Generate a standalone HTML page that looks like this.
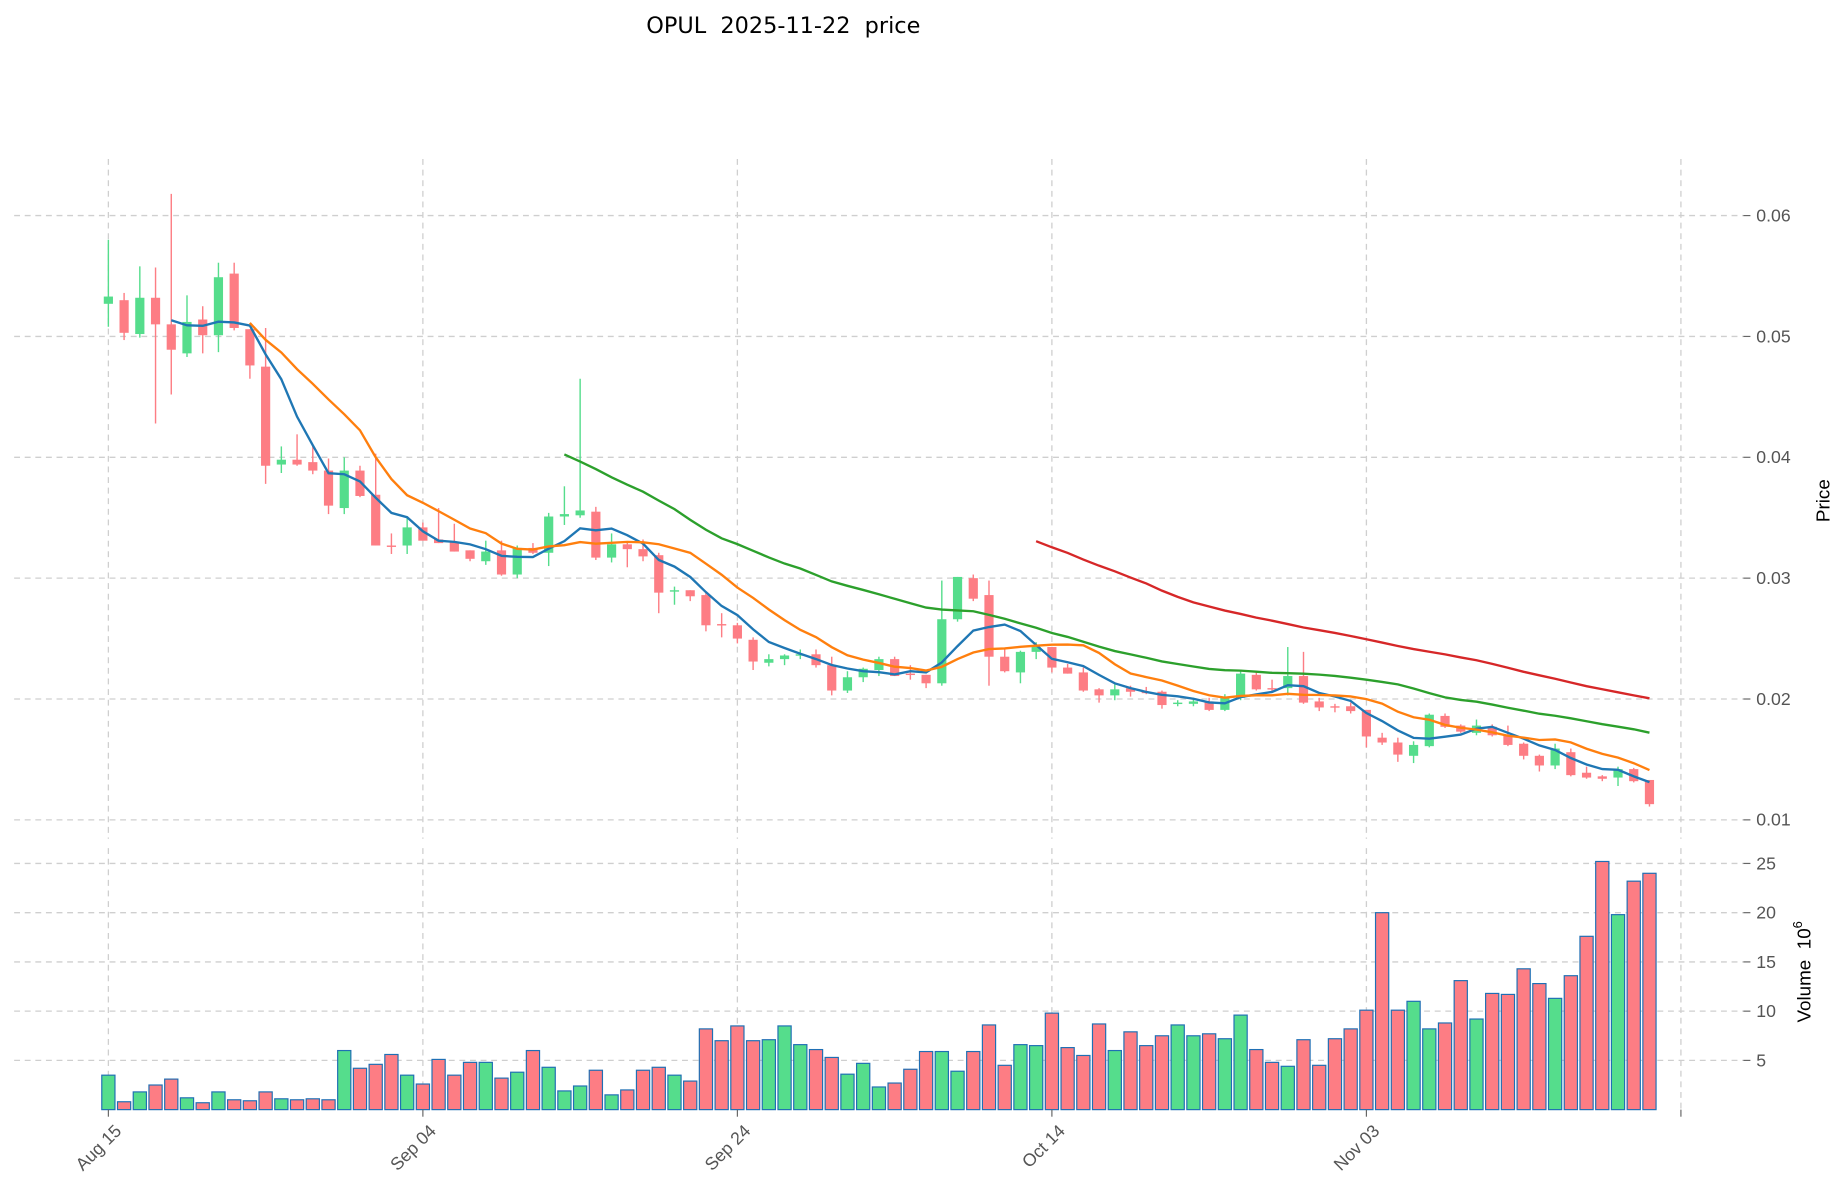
<!DOCTYPE html>
<html><head><meta charset="utf-8"><style>
html,body{margin:0;padding:0;background:#fff;}
svg{display:block;font-family:"Liberation Sans","DejaVu Sans",sans-serif;}
</style></head><body>
<svg id="chart" width="1847" height="1202" viewBox="0 0 1568 1020.4" xmlns="http://www.w3.org/2000/svg">
<text x="665" y="28" font-size="19" text-anchor="middle" fill="#000" style="white-space:pre;font-family:'DejaVu Sans',sans-serif" xml:space="preserve">OPUL  2025-11-22  price</text>
<g id="grid"></g><g id="vol"></g><g id="candles"></g><g id="mas"></g><g id="axes"></g>
<text transform="translate(1553,425) rotate(-90)" font-size="16" text-anchor="middle" fill="#000">Price</text>
<text transform="translate(1537,825) rotate(-90)" font-size="16" text-anchor="middle" fill="#000" style="white-space:pre" xml:space="preserve">Volume  10<tspan font-size="11" dy="-7">6</tspan></text>
</svg>
<script>
const opens=[.0527,.0530,.0502,.0532,.0510,.0486,.0514,.0501,.0552,.0506,.0475,.0394,.0398,.0396,.0389,.0358,.0389,.0369,.0327,.0327,.0342,.0332,.0330,.0323,.0314,.0323,.0303,.0325,.0321,.0351,.0352,.0355,.0317,.0328,.0324,.0319,.0289,.0290,.0286,.0262,.0261,.0249,.0230,.0233,.0236,.0237,.0228,.0207,.0218,.0224,.0233,.0221,.0220,.0213,.0266,.0300,.0286,.0235,.0222,.0239,.0243,.0226,.0222,.0208,.0203,.0209,.0206,.0206,.0196,.0196,.0198,.0191,.0201,.0220,.0209,.0209,.0219,.0198,.0194,.0194,.0191,.0168,.0164,.0153,.0161,.0186,.0178,.0172,.0177,.0170,.0163,.0153,.0145,.0156,.0139,.0136,.0135,.0142,.0133];
const closes=[.0533,.0503,.0532,.0510,.0489,.0512,.0501,.0549,.0507,.0476,.0393,.0398,.0394,.0389,.0360,.0389,.0368,.0327,.0326,.0342,.0331,.0329,.0322,.0316,.0322,.0303,.0325,.0321,.0351,.0353,.0356,.0317,.0328,.0324,.0318,.0288,.0290,.0285,.0261,.0261,.0250,.0231,.0233,.0236,.0237,.0228,.0207,.0218,.0225,.0233,.0219,.0220,.0213,.0266,.0301,.0283,.0235,.0223,.0239,.0243,.0226,.0221,.0207,.0203,.0208,.0206,.0205,.0195,.0197,.0198,.0191,.0201,.0221,.0208,.0208,.0219,.0197,.0193,.0193,.0190,.0169,.0164,.0154,.0162,.0187,.0177,.0173,.0178,.0170,.0162,.0153,.0145,.0159,.0137,.0135,.0134,.0142,.0132,.0113];
const highs=[.0580,.0536,.0558,.0557,.0618,.0534,.0525,.0561,.0561,.0506,.0507,.0409,.0419,.0410,.0399,.0400,.0393,.0403,.0337,.0350,.0346,.0358,.0345,.0323,.0331,.0331,.0327,.0329,.0354,.0376,.0465,.0359,.0337,.0330,.0332,.0321,.0293,.0290,.0288,.0271,.0263,.0251,.0237,.0237,.0241,.0241,.0235,.0223,.0226,.0235,.0235,.0228,.0220,.0298,.0301,.0303,.0298,.0242,.0240,.0247,.0243,.0229,.0226,.0209,.0212,.0211,.0210,.0207,.0199,.0201,.0201,.0204,.0223,.0223,.0216,.0243,.0239,.0201,.0196,.0197,.0191,.0172,.0168,.0165,.0188,.0188,.0179,.0183,.0179,.0178,.0164,.0154,.0163,.0159,.0144,.0137,.0144,.0143,.0133];
const lows=[.0508,.0497,.0499,.0428,.0452,.0483,.0486,.0487,.0505,.0465,.0378,.0387,.0393,.0386,.0353,.0353,.0367,.0327,.0320,.0320,.0331,.0329,.0322,.0314,.0311,.0302,.0300,.0320,.0310,.0344,.0350,.0315,.0313,.0309,.0314,.0271,.0278,.0281,.0256,.0251,.0246,.0224,.0227,.0228,.0233,.0226,.0203,.0205,.0214,.0219,.0219,.0216,.0209,.0211,.0264,.0281,.0211,.0222,.0213,.0233,.0222,.0221,.0206,.0197,.0199,.0202,.0204,.0192,.0194,.0194,.0190,.0190,.0199,.0207,.0206,.0203,.0196,.0190,.0189,.0188,.0160,.0162,.0148,.0147,.0160,.0176,.0172,.0170,.0169,.0161,.0150,.0140,.0142,.0136,.0134,.0132,.0128,.0131,.0111];
const volumes=[3.5,0.8,1.8,2.5,3.1,1.2,0.7,1.8,1.0,0.9,1.8,1.1,1.0,1.1,1.0,6.0,4.2,4.6,5.6,3.5,2.6,5.1,3.5,4.8,4.8,3.2,3.8,6.0,4.3,1.9,2.4,4.0,1.5,2.0,4.0,4.3,3.5,2.9,8.2,7.0,8.5,7.0,7.1,8.5,6.6,6.1,5.3,3.6,4.7,2.3,2.7,4.1,5.9,5.9,3.9,5.9,8.6,4.5,6.6,6.5,9.8,6.3,5.5,8.7,6.0,7.9,6.5,7.5,8.6,7.5,7.7,7.2,9.6,6.1,4.8,4.4,7.1,4.5,7.2,8.2,10.1,20.0,10.1,11.0,8.2,8.8,13.1,9.2,11.8,11.7,14.3,12.8,11.3,13.6,17.6,25.2,19.8,23.2,24.0];
const priceTicks=[0.01,0.02,0.03,0.04,0.05,0.06];
const priceTickLabels=["0.01","0.02","0.03","0.04","0.05","0.06"];
const volTicks=[5,10,15,20,25];
const dateTickIdx=[0,20,40,60,80,100];
const dateTickLabels=["Aug 15","Sep 04","Sep 24","Oct 14","Nov 03",""];
const maPeriods=[5,10,30,60];
const maColors=["#1f77b4","#ff7f0e","#2ca02c","#d62728"];

const NS="http://www.w3.org/2000/svg";
const X0=92, DX=13.35;
const xs=i=>X0+DX*i;
const yP=p=>696-(p-0.01)*10260;
const yV=v=>942-v*8.36;
const L=12,R=1480;
function mk(tag,attrs,parent){const e=document.createElementNS(NS,tag);for(const k in attrs)e.setAttribute(k,attrs[k]);parent.appendChild(e);return e;}
const G=document.getElementById('grid'),V=document.getElementById('vol'),C=document.getElementById('candles'),M=document.getElementById('mas'),A=document.getElementById('axes');
const gridStyle={stroke:"#cfcfcf","stroke-width":1.1,"stroke-dasharray":"5,4"};
priceTicks.forEach((t,k)=>{
  const g=mk('line',Object.assign({x1:L,x2:R,y1:yP(t),y2:yP(t)},gridStyle),G);
  
  
  mk('line',{x1:R,x2:R+6,y1:yP(t),y2:yP(t),stroke:"#666","stroke-width":1},A);
  const tx=mk('text',{x:R+11,y:yP(t)+5,"font-size":15,fill:"#555"},A);tx.textContent=priceTickLabels[k];
  
  
});
volTicks.forEach(t=>{
  const g=mk('line',Object.assign({x1:L,x2:R,y1:yV(t),y2:yV(t)},gridStyle),G);
  
  
  mk('line',{x1:R,x2:R+6,y1:yV(t),y2:yV(t),stroke:"#666","stroke-width":1},A);
  const tx=mk('text',{x:R+11,y:yV(t)+5,"font-size":15,fill:"#555"},A);tx.textContent=String(t);
  
  
});
dateTickIdx.forEach((d,k)=>{
  const x=xs(d);
  const g1=mk('line',Object.assign({x1:x,x2:x,y1:135,y2:712},gridStyle),G);
  
  
  mk('line',Object.assign({x1:x,x2:x,y1:720,y2:942},gridStyle),G);
  mk('line',{x1:x,x2:x,y1:942,y2:948,stroke:"#666","stroke-width":1},A);
  if(dateTickLabels[k]){
    const tx=mk('text',{transform:`translate(${x+12},${961}) rotate(-45)`,"font-size":15,fill:"#555","text-anchor":"end"},A);
    tx.textContent=dateTickLabels[k];
    
    
  }
});
const GREEN="#55dd8c",RED="#fd7d84";
closes.forEach((c,i)=>{
  const o=opens[i],up=c>=o,col=up?GREEN:RED,x=xs(i);
  const w=mk('line',{x1:x,x2:x,y1:yP(highs[i]),y2:yP(lows[i]),stroke:col,"stroke-width":1.2},C);
  
  
  const top=yP(Math.max(o,c)),bot=yP(Math.min(o,c));
  const b=mk('rect',{x:x-3.9,y:top,width:7.8,height:Math.max(bot-top,1.2),fill:col},C);
  
  
  const vb=mk('rect',{x:x-5.6,y:yV(volumes[i]),width:11.2,height:942-yV(volumes[i]),fill:col,stroke:"#1f6fb4","stroke-width":1},V);
  
  
});
maPeriods.forEach((p,k)=>{
  const pts=[];
  for(let i=p-1;i<closes.length;i++){let s=0;for(let j=i-p+1;j<=i;j++)s+=closes[j];pts.push(xs(i).toFixed(1)+","+yP(s/p).toFixed(1));}
  const pl=mk('polyline',{points:pts.join(" "),fill:"none",stroke:maColors[k],"stroke-width":2},M);
  
  
});
</script>
</body></html>
